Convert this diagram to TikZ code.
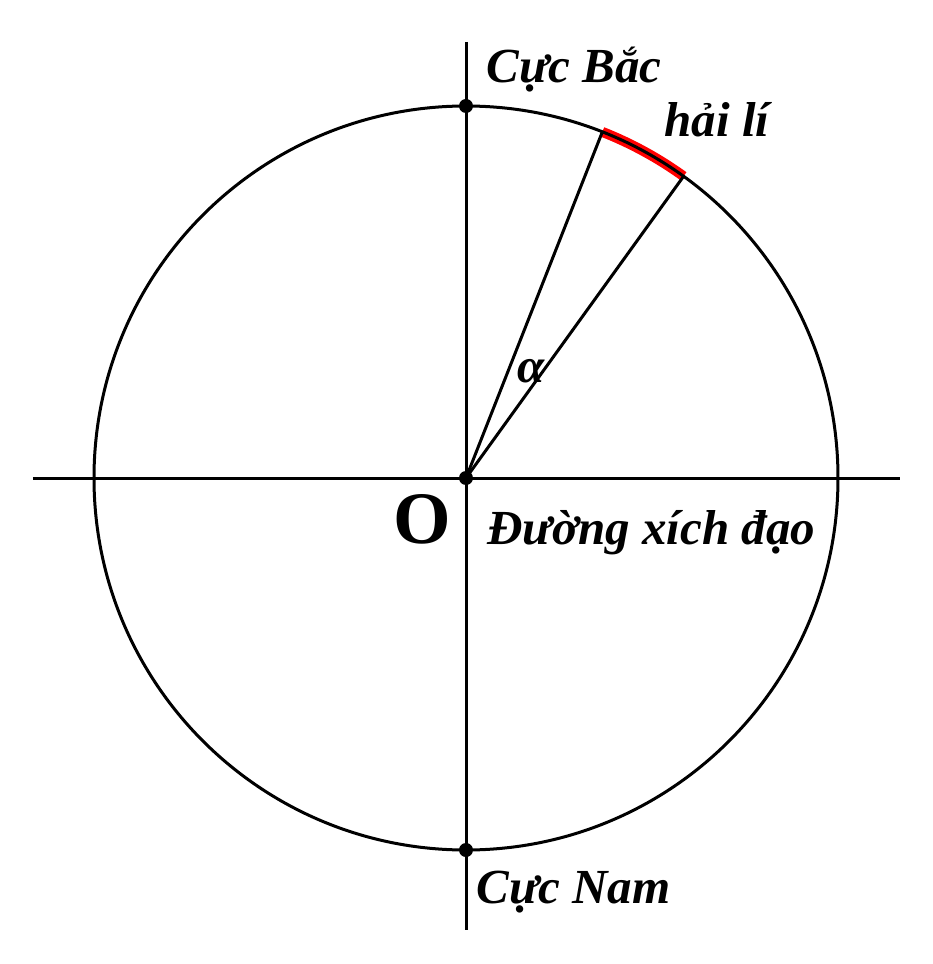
\documentclass[tikz,border=0pt]{standalone}
\usepackage{fontspec}
\setmainfont{Liberation Serif}
\usetikzlibrary{arrows.meta}

\tikzset{
  lbl/.style={inner sep=0pt, anchor=base west, font=\fontsize{24.5pt}{30pt}\selectfont\bfseries\itshape},
  pole/.style={fill, circle, inner sep=0pt, minimum size=7pt}
}

\begin{document}
\begin{tikzpicture}[x=0.5pt, y=0.5pt, line width=1.5pt]

  % page frame
  \useasboundingbox (-466,-486) rectangle (466,478);

  % axes
  \draw (-433,0) -- (434,0);
  \draw (0,436) -- (0,-452);

  % red arc (hai li) under the circle
  \draw[red, line width=5pt] (54.2:372) arc (54.2:68.5:372);

  % the meridian circle
  \draw (0,0) circle (372);

  % center and poles
  \node[pole] (O) at (0,0) {};
  \node[pole] (N) at (0,372) {};
  \node[pole] (S) at (0,-372) {};

  % radii
  \coordinate (A) at (68.5:372);
  \coordinate (B) at (54.2:372);
  \draw (O.center) -- (A);
  \draw (O.center) -- (B);

  % labels
  \node[lbl] (bac) at (19,395) {Cực Bắc};
  \node[lbl] (nam) at (9,-425) {Cực Nam};
  \node[lbl] (xd) at (20,-66) {Đường xích đạo};
  \node[lbl] (hl) at (197,341) {hải lí};
  \node[lbl] (alpha) at (50,96) {α};
  \node[inner sep=0pt, anchor=base, font=\fontsize{37pt}{42pt}\selectfont\bfseries] (Olbl) at (-44,-65) {O};

\end{tikzpicture}
\end{document}
